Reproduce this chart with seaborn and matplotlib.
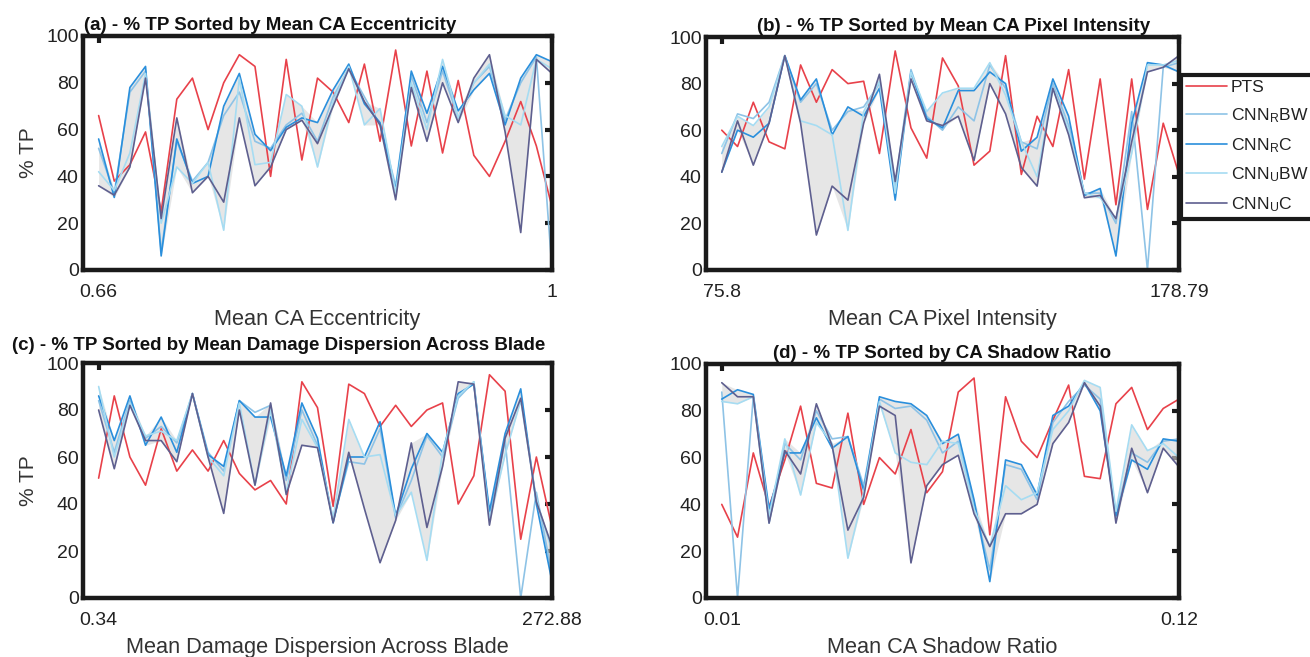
import numpy as np
import pandas as pd
import matplotlib
matplotlib.use("Agg")
import matplotlib.pyplot as plt
import seaborn as sns

# ---------------- data ----------------
series = ["PTS", r"CNN$_\mathregular{R}$BW", r"CNN$_\mathregular{R}$C",
          r"CNN$_\mathregular{U}$BW", r"CNN$_\mathregular{U}$C"]
colors = ["#e8414a", "#8ec3e6", "#2a8fdc", "#a6dcf2", "#5e5f8f"]

titles = ["(a) - % TP Sorted by Mean CA Eccentricity",
          "(b) - % TP Sorted by Mean CA Pixel Intensity",
          "(c) - % TP Sorted by Mean Damage Dispersion Across Blade",
          "(d) - % TP Sorted by CA Shadow Ratio"]
xlabels = ["Mean CA Eccentricity", "Mean CA Pixel Intensity",
           "Mean Damage Dispersion Across Blade", "Mean CA Shadow Ratio"]
xtick_labels = [("0.66", "1"), ("75.8", "178.79"), ("0.34", "272.88"), ("0.01", "0.12")]

pts_a = [66,38,45,59,25,73,82,60,80,92,87,40,90,47,82,76,63,88,55,94,53,85,50,81,49,40,55,72,53,27]
rbw_a = [52,33,76,85,8,55,38,46,66,76,55,52,62,67,55,74,86,74,62,36,83,63,85,65,80,87,64,80,91,0]
rc_a  = [56,31,78,87,6,56,37,40,70,84,58,51,61,65,63,77,88,71,63,34,85,67,87,68,77,84,62,82,92,89]
ubw_a = [42,34,50,84,20,44,37,46,17,82,45,46,75,70,44,72,87,62,69,33,80,60,90,65,80,88,66,62,90,86]
uc_a  = [36,32,44,82,22,65,33,40,29,65,36,44,60,64,54,70,86,72,62,30,78,55,80,63,82,92,59,16,90,84]

pts_b = [60,53,72,55,52,88,72,86,80,81,50,94,61,48,91,79,45,51,92,41,66,53,86,39,82,28,82,26,63,41]
rbw_b = [50,67,65,72,92,72,80,60,68,70,80,36,86,66,60,70,64,88,78,55,52,80,62,33,33,20,68,0,87,89]
rc_b  = [42,60,57,63,92,73,82,58,70,66,78,30,85,65,61,77,77,85,80,51,57,82,66,32,35,6,63,89,88,85]
ubw_b = [53,66,62,70,92,64,62,58,17,68,81,33,85,68,76,78,78,89,75,55,40,78,60,33,31,22,50,88,88,90]
uc_b  = [42,64,45,63,92,63,15,36,30,63,84,38,82,64,62,66,47,80,67,44,36,78,58,31,32,22,55,85,87,92]

pts_c = [51,86,60,48,72,54,63,54,67,53,46,50,40,92,81,39,91,87,73,82,73,80,83,40,52,95,88,25,60,30]
rbw_c = [84,62,84,68,73,66,87,62,54,84,79,82,50,80,65,33,58,57,72,34,50,69,60,85,92,35,67,0,45,10]
rc_c  = [86,67,86,65,77,62,87,61,56,84,77,77,52,83,68,32,60,60,75,35,55,70,62,87,91,37,70,89,40,7]
ubw_c = [90,60,83,69,71,67,87,60,52,83,48,80,45,76,64,34,76,60,61,35,45,16,62,86,92,33,61,84,42,20]
uc_c  = [80,55,82,67,67,58,87,60,36,80,48,83,44,65,64,32,62,38,15,33,66,30,56,92,91,31,68,85,41,22]

pts_d = [40,26,62,39,59,82,49,47,79,40,60,53,72,45,54,88,94,27,86,67,60,76,91,52,51,83,90,72,81,85]
rbw_d = [88,0,86,32,66,59,80,68,69,48,85,81,82,76,62,67,40,12,57,55,42,75,84,91,85,36,62,58,67,68]
rc_d  = [85,89,87,38,62,62,77,64,69,46,86,84,83,78,66,70,42,7,59,57,44,78,82,92,80,35,59,55,68,67]
ubw_d = [84,83,86,35,68,44,75,66,17,45,84,62,58,57,67,66,38,22,48,42,45,72,80,93,90,37,74,63,66,60]
uc_d  = [92,86,86,32,63,53,83,65,29,43,82,78,15,48,57,61,36,22,36,36,40,66,75,92,82,32,64,45,64,56]

panels = [(pts_a, rbw_a, rc_a, ubw_a, uc_a),
          (pts_b, rbw_b, rc_b, ubw_b, uc_b),
          (pts_c, rbw_c, rc_c, ubw_c, uc_c),
          (pts_d, rbw_d, rc_d, ubw_d, uc_d)]

# ---------------- style ----------------
sns.set_theme(style="white")
plt.rcParams["font.family"] = ["Liberation Sans", "DejaVu Sans"]
plt.rcParams["mathtext.fontset"] = "custom"
plt.rcParams["mathtext.rm"] = "Liberation Sans"
plt.rcParams["mathtext.it"] = "Liberation Sans:italic"
plt.rcParams["mathtext.bf"] = "Liberation Sans:bold"

W, H = 1310, 657
fig = plt.figure(figsize=(W / 100, H / 100), dpi=100)

# axes boxes in pixels: left, top, right, bottom
boxes = [(83, 36, 552, 270), (706, 37, 1179, 270),
         (83, 363, 552, 598), (706, 364, 1179, 598)]
title_x = [0.40, 0.524, 0.418, 0.50]
title_pad = [4, 4, 9, 4]

handles = None
for k, (vals, box, ttl, xl, xtl) in enumerate(zip(panels, boxes, titles, xlabels, xtick_labels)):
    l, t, r, b = box
    ax = fig.add_axes([l / W, 1 - b / H, (r - l) / W, (b - t) / H])
    n = len(vals[0])
    idx = np.arange(1, n + 1)
    df = pd.concat([pd.DataFrame({"idx": idx, "value": v, "series": s})
                    for v, s in zip(vals, series)], ignore_index=True)
    cnn = np.array([vals[2], vals[3], vals[4]])
    ax.fill_between(idx, cnn.min(axis=0), cnn.max(axis=0), color="#d6d6d6",
                    alpha=0.6, lw=0, zorder=1)
    sns.lineplot(data=df, x="idx", y="value", hue="series", hue_order=series,
                 palette=colors, ax=ax, legend=False, sort=False,
                 estimator=None, lw=1.2, zorder=2)
    ax.set_xlim(0, n)
    ax.set_ylim(0, 100)
    ax.set_xticks([1, n])
    ax.set_xticklabels(list(xtl))
    ax.set_yticks([0, 20, 40, 60, 80, 100])
    ax.tick_params(direction="in", length=5, width=3, top=True, right=True,
                   labelsize=14, colors="#1a1a1a")
    ax.tick_params(axis="x", pad=10)
    ax.tick_params(axis="y", pad=3)
    for tl in ax.get_xticklabels() + ax.get_yticklabels():
        tl.set_color("#222222")
    for sp in ax.spines.values():
        sp.set_linewidth(3.2)
        sp.set_color("#1a1a1a")
    ax.set_xlabel(xl, fontsize=15.7, color="#333333", labelpad=6)
    ax.set_ylabel("% TP" if k in (0, 2) else "", fontsize=15, color="#333333", labelpad=6)
    ax.set_title(ttl, fontsize=13.5, fontweight="bold", x=title_x[k], pad=title_pad[k],
                 color="#111111")
    if handles is None:
        handles = ax.get_lines()[:5]

leg = fig.legend(handles, series, loc="upper left", bbox_to_anchor=(1181 / W, 1 - 75 / H),
                 frameon=True, fancybox=False, framealpha=1, edgecolor="#1a1a1a",
                 fontsize=12.6, borderpad=0.3, handlelength=2.3, handletextpad=0.25,
                 labelspacing=0.62, borderaxespad=0)
leg.get_frame().set_linewidth(3)
for tx in leg.get_texts():
    tx.set_color("#222222")

fig.savefig("out.png", dpi=100)
